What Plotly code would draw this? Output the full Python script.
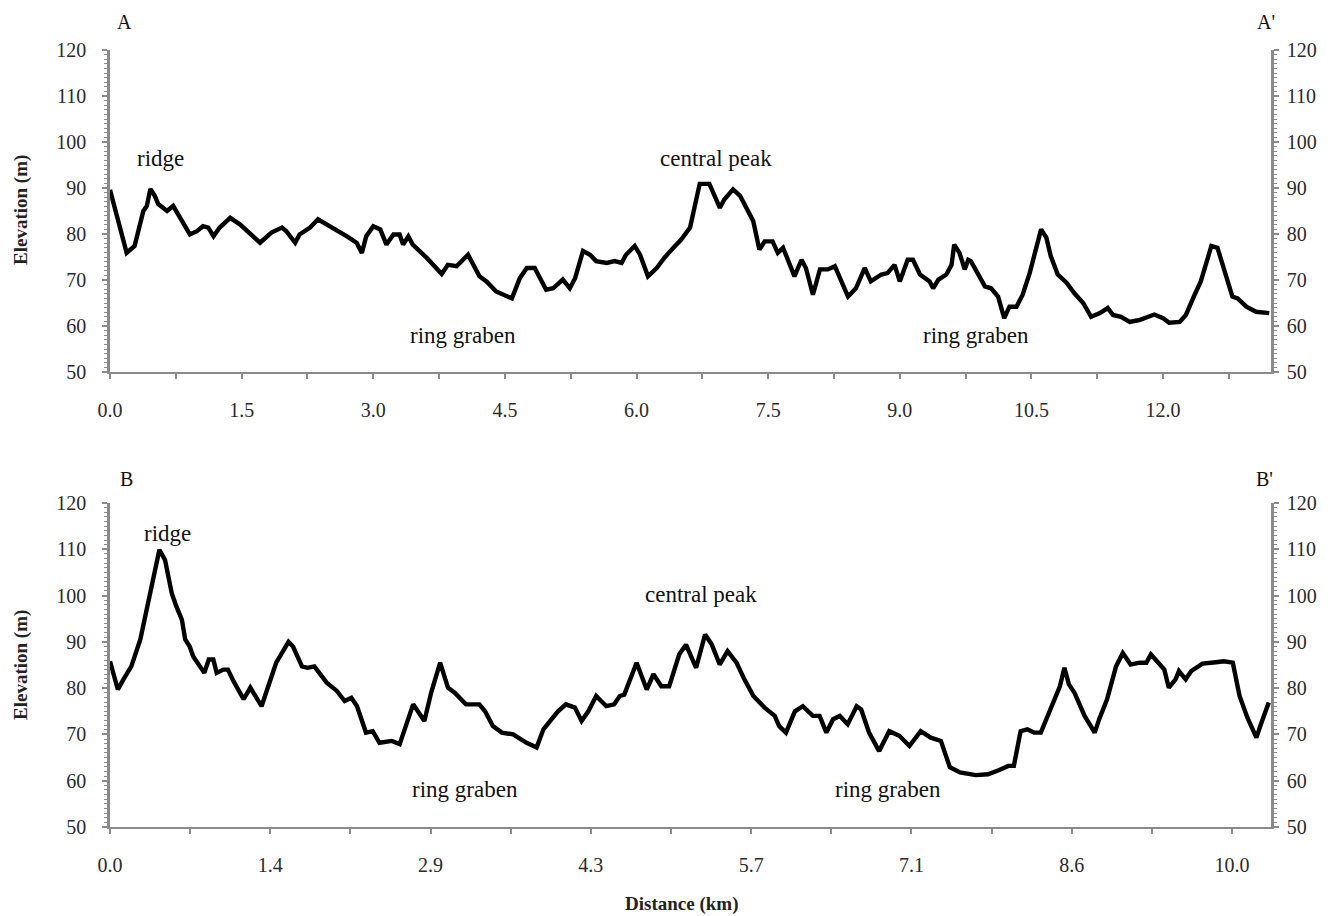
import plotly.graph_objects as go

# ---------------- data ----------------
profile_a_km = [0.0, 0.19, 0.28, 0.38, 0.42, 0.46, 0.51, 0.55, 0.65, 0.72, 0.80, 0.91, 0.99, 1.06, 1.12,
                1.18, 1.25, 1.37, 1.48, 1.59, 1.71, 1.84, 1.96, 2.01, 2.11, 2.16, 2.28, 2.37, 2.47, 2.58,
                2.70, 2.81, 2.87, 2.92, 3.00, 3.08, 3.15, 3.23, 3.30, 3.34, 3.40, 3.45, 3.61, 3.78, 3.85,
                3.95, 4.08, 4.21, 4.29, 4.40, 4.58, 4.67, 4.75, 4.84, 4.97, 5.05, 5.16, 5.24, 5.30, 5.39,
                5.47, 5.54, 5.66, 5.75, 5.83, 5.88, 5.98, 6.04, 6.13, 6.23, 6.32, 6.42, 6.51, 6.61, 6.66,
                6.72, 6.83, 6.95, 7.00, 7.10, 7.18, 7.33, 7.40, 7.46, 7.55, 7.61, 7.67, 7.80, 7.88, 7.93,
                8.01, 8.09, 8.18, 8.26, 8.41, 8.50, 8.60, 8.67, 8.79, 8.86, 8.94, 9.00, 9.09, 9.15, 9.23,
                9.34, 9.38, 9.44, 9.53, 9.59, 9.62, 9.68, 9.74, 9.78, 9.81, 9.89, 9.97, 10.04, 10.12, 10.19,
                10.25, 10.33, 10.40, 10.48, 10.54, 10.61, 10.67, 10.72, 10.80, 10.90, 10.99, 11.09, 11.18,
                11.28, 11.37, 11.43, 11.52, 11.62, 11.73, 11.90, 12.00, 12.07, 12.19, 12.26, 12.36, 12.43,
                12.51, 12.55, 12.62, 12.70, 12.79, 12.85, 12.95, 13.06, 13.21]
profile_a_m = [89.6, 75.9, 77.4, 85.0, 86.1, 89.8, 88.3, 86.5, 85.0, 86.1, 83.5, 79.9, 80.6, 81.7, 81.4,
               79.5, 81.4, 83.5, 82.1, 80.3, 78.1, 80.3, 81.4, 80.6, 78.1, 79.9, 81.4, 83.2, 82.1, 81.0,
               79.5, 78.1, 75.9, 79.5, 81.7, 81.0, 77.7, 79.9, 79.9, 77.7, 79.5, 77.7, 74.8, 71.3, 73.3,
               73.0, 75.5, 70.8, 69.7, 67.5, 66.0, 70.4, 72.6, 72.6, 67.9, 68.2, 70.1, 68.2, 70.4, 76.3,
               75.5, 74.1, 73.7, 74.1, 73.7, 75.5, 77.4, 75.5, 70.8, 72.6, 74.9, 77.0, 78.8, 81.4, 85.4,
               90.9, 90.9, 85.7, 87.5, 89.7, 88.3, 82.8, 76.6, 78.4, 78.4, 75.9, 77.0, 70.8, 74.4, 72.6,
               66.8, 72.3, 72.3, 73.0, 66.4, 68.2, 72.6, 69.7, 71.2, 71.5, 73.3, 69.7, 74.4, 74.4, 71.2,
               69.7, 68.2, 70.1, 71.2, 73.3, 77.7, 75.9, 72.3, 74.4, 74.1, 71.2, 68.6, 68.2, 66.4, 61.7,
               64.2, 64.2, 66.8, 71.5, 75.9, 81.0, 79.2, 75.2, 71.2, 69.4, 67.1, 65.0, 62.0,
               62.8, 63.9, 62.4, 62.0, 60.9, 61.3, 62.5, 61.7, 60.7, 60.9, 62.4, 66.8, 69.7,
               74.8, 77.4, 77.0, 71.9, 66.4, 66.0, 64.2, 63.1, 62.8]

profile_b_km = [0.0, 0.07, 0.12, 0.15, 0.19, 0.27, 0.33, 0.39, 0.44, 0.49, 0.55, 0.59, 0.64, 0.67, 0.71,
                0.74, 0.80, 0.84, 0.88, 0.92, 0.95, 1.01, 1.05, 1.10, 1.19, 1.25, 1.29, 1.35, 1.39, 1.48,
                1.59, 1.63, 1.71, 1.76, 1.82, 1.87, 1.93, 2.02, 2.09, 2.15, 2.20, 2.28, 2.34, 2.40, 2.51,
                2.58, 2.63, 2.70, 2.80, 2.86, 2.94, 3.01, 3.07, 3.12, 3.17, 3.23, 3.29, 3.34, 3.41, 3.49,
                3.59, 3.71, 3.80, 3.86, 3.92, 3.99, 4.06, 4.14, 4.20, 4.26, 4.33, 4.42, 4.49, 4.54, 4.58,
                4.63, 4.69, 4.78, 4.84, 4.91, 4.98, 5.07, 5.13, 5.22, 5.30, 5.36, 5.43, 5.50, 5.58, 5.65,
                5.73, 5.83, 5.92, 5.96, 6.02, 6.10, 6.17, 6.26, 6.32, 6.38, 6.44, 6.50, 6.57, 6.65, 6.69,
                6.76, 6.85, 6.94, 7.03, 7.12, 7.22, 7.31, 7.40, 7.48, 7.57, 7.71, 7.82, 7.92, 8.00, 8.05,
                8.11, 8.17, 8.23, 8.29, 8.34, 8.40, 8.46, 8.50, 8.54, 8.59, 8.68, 8.77, 8.81, 8.88, 8.93,
                8.96, 9.02, 9.09, 9.17, 9.23, 9.27, 9.33, 9.39, 9.43, 9.49, 9.52, 9.58, 9.63, 9.67, 9.73,
                9.85, 9.92, 10.00, 10.06, 10.13, 10.21, 10.25, 10.32]
profile_b_m = [85.8, 79.7, 81.9, 83.0, 84.7, 90.5, 97.0, 104.1, 109.9, 107.7, 100.5, 97.7, 94.8, 90.5, 89.0,
               86.9, 84.7, 83.3, 86.2, 86.2, 83.3, 84.0, 84.0, 81.5, 77.6, 80.1, 78.5, 76.1, 79.0, 85.5,
               90.0, 89.0, 84.7, 84.4, 84.7, 83.0, 81.2, 79.4, 77.2, 77.9, 76.1, 70.4, 70.7, 68.2, 68.6,
               67.9, 71.8, 76.5, 72.9, 79.0, 85.5, 80.1, 79.0, 77.6, 76.5, 76.5, 76.5, 75.0, 71.8, 70.4,
               70.0, 68.2, 67.2, 71.1, 72.9, 75.0, 76.5, 75.8, 72.9, 75.0, 78.3, 76.1, 76.5, 78.3, 78.6,
               81.9, 85.5, 79.7, 83.0, 80.4, 80.4, 87.3, 89.4, 84.4, 91.6, 89.4, 85.1, 88.0, 85.5, 81.9,
               78.3, 75.8, 74.0, 71.8, 70.4, 75.0, 76.1, 74.0, 74.0, 70.4, 73.3, 74.0, 72.2, 76.1, 75.4,
               70.4, 66.4, 70.7, 69.7, 67.5, 70.7, 69.3, 68.6, 62.9, 61.8, 61.2, 61.4, 62.3, 63.2, 63.2,
               70.7, 71.1, 70.4, 70.4, 73.3, 76.9, 80.4, 84.4, 80.8, 79.0, 74.0, 70.4, 73.3, 77.6, 81.9,
               84.7, 87.6, 85.1, 85.5, 85.5, 87.3, 85.8, 84.0, 80.1, 81.9, 83.7, 81.9, 83.7, 84.4, 85.3,
               85.6, 85.8, 85.5, 78.3, 73.6, 69.3, 72.2, 76.9]

top_tick_step = 1.5
top_tick_labels = ["0.0", "1.5", "3.0", "4.5", "6.0", "7.5", "9.0", "10.5", "12.0"]
bottom_tick_step = 1.4275
bottom_tick_labels = ["0.0", "1.4", "2.9", "4.3", "5.7", "7.1", "8.6", "10.0"]
top_x_max = 13.23
bottom_x_max = 10.34
y_range = [50, 120]

top_notes = [("ridge", 0.57, 96.4), ("central peak", 6.90, 96.4),
             ("ring graben", 4.02, 57.9), ("ring graben", 9.87, 57.9)]
bottom_notes = [("ridge", 0.51, 113.4), ("central peak", 5.26, 100.3),
                ("ring graben", 3.16, 58.1), ("ring graben", 6.93, 58.1)]

# ---------------- figure ----------------
FONT = "Liberation Serif"
OFF = 8                      # default body margin of the html page
W, H = 1331 - OFF, 916 - OFF
L = 110 - OFF
T = 50 - OFF
R = W - (1271 - OFF)
B = H - (827 - OFF)
plot_h = H - T - B
pw = W - L - R


def fy(yp):
    """reference pixel row -> paper fraction"""
    return (H - B - (yp - OFF)) / plot_h


def fx(xp):
    """reference pixel column -> paper fraction"""
    return (xp - OFF - L) / pw


top_dom = [fy(372), 1.0]
bot_dom = [0.0, fy(503)]


def xticks(step, labels, xmax):
    vals, texts = [], []
    i = 0
    while i * step / 2 <= xmax + 1e-9:
        vals.append(i * step / 2)
        texts.append(labels[i // 2] if i % 2 == 0 and i // 2 < len(labels) else "")
        i += 1
    return vals, texts


fig = go.Figure()
line = dict(color="black", width=4.4)
fig.add_trace(go.Scatter(x=profile_a_km, y=profile_a_m, mode="lines", line=line,
                         xaxis="x", yaxis="y", showlegend=False, hoverinfo="skip"))
fig.add_trace(go.Scatter(x=profile_a_km, y=profile_a_m, mode="lines", line=line, opacity=0,
                         xaxis="x", yaxis="y3", showlegend=False, hoverinfo="skip"))
fig.add_trace(go.Scatter(x=profile_b_km, y=profile_b_m, mode="lines", line=line,
                         xaxis="x2", yaxis="y2", showlegend=False, hoverinfo="skip"))
fig.add_trace(go.Scatter(x=profile_b_km, y=profile_b_m, mode="lines", line=line, opacity=0,
                         xaxis="x2", yaxis="y4", showlegend=False, hoverinfo="skip"))

tick_font = dict(family=FONT, size=20, color="#2a2a2a")
axis_col = "#8a8a8a"


def yaxis_style(standoff):
    return dict(range=y_range, dtick=10, tick0=50, showgrid=False, zeroline=False,
                showline=True, linecolor=axis_col, linewidth=2.5,
                ticks="outside", ticklen=5, tickcolor=axis_col, tickwidth=1.5,
                tickfont=tick_font, ticklabelstandoff=standoff,
                minor=dict(dtick=1, tick0=50, ticks="outside", ticklen=3, tickcolor=axis_col,
                           tickwidth=1.2, showgrid=False))


tv1, tt1 = xticks(top_tick_step, top_tick_labels, top_x_max)
tv2, tt2 = xticks(bottom_tick_step, bottom_tick_labels, bottom_x_max)
xcommon = dict(showgrid=False, zeroline=False, showline=True, linecolor=axis_col, linewidth=2,
               ticks="outside", ticklen=5, tickcolor=axis_col, tickwidth=2, tickfont=tick_font,
               tickmode="array", ticklabelstandoff=14)

fig.update_layout(
    width=W, height=H,
    margin=dict(l=L, r=R, t=T, b=B),
    paper_bgcolor="white", plot_bgcolor="white",
    xaxis=dict(domain=[0, 1], anchor="y", range=[0, top_x_max], tickvals=tv1, ticktext=tt1, **xcommon),
    xaxis2=dict(domain=[0, 1], anchor="y2", range=[0, bottom_x_max], tickvals=tv2, ticktext=tt2, **xcommon),
    yaxis=dict(domain=top_dom, anchor="x", side="left", **yaxis_style(12)),
    yaxis2=dict(domain=bot_dom, anchor="x2", side="left", **yaxis_style(12)),
    yaxis3=dict(overlaying="y", anchor="x", side="right", **yaxis_style(4)),
    yaxis4=dict(overlaying="y2", anchor="x2", side="right", **yaxis_style(4)),
)

note_font = dict(family=FONT, size=23, color="#111")
ann = []
for text, x, y in top_notes:
    ann.append(dict(text=text, x=x, y=y, xref="x", yref="y", showarrow=False,
                    xanchor="center", yanchor="middle", font=note_font))
for text, x, y in bottom_notes:
    ann.append(dict(text=text, x=x, y=y, xref="x2", yref="y2", showarrow=False,
                    xanchor="center", yanchor="middle", font=note_font))

corner_font = dict(family=FONT, size=20, color="#111")
for text, xp, yp in [("A", 124, 22), ("A'", 1266, 22), ("B", 126, 479), ("B'", 1264, 479)]:
    ann.append(dict(text=text, x=fx(xp), y=fy(yp), xref="paper", yref="paper", showarrow=False,
                    xanchor="center", yanchor="middle", font=corner_font))

title_font = dict(family=FONT, size=19, color="#222")
ann.append(dict(text="<b>Elevation (m)</b>", x=fx(21), y=fy(210), xref="paper", yref="paper",
                showarrow=False, textangle=-90, xanchor="center", yanchor="middle", font=title_font))
ann.append(dict(text="<b>Elevation (m)</b>", x=fx(21), y=fy(665), xref="paper", yref="paper",
                showarrow=False, textangle=-90, xanchor="center", yanchor="middle", font=title_font))
ann.append(dict(text="<b>Distance (km)</b>", x=fx(681), y=fy(904), xref="paper", yref="paper",
                showarrow=False, xanchor="center", yanchor="middle", font=title_font))
fig.update_layout(annotations=ann)

fig.write_html("out.html")
